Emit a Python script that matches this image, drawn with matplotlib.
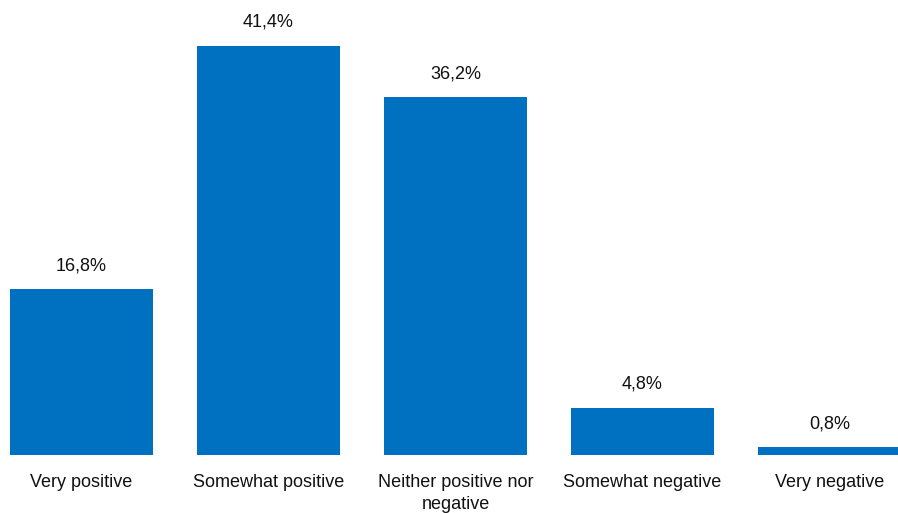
import matplotlib
matplotlib.use("Agg")
import matplotlib.pyplot as plt
from matplotlib import font_manager

categories = ["Very positive", "Somewhat positive", "Neither positive nor\nnegative",
              "Somewhat negative", "Very negative"]
values = [16.8, 41.4, 36.2, 4.8, 0.8]
labels = ["16,8%", "41,4%", "36,2%", "4,8%", "0,8%"]

names = {f.name for f in font_manager.fontManager.ttflist}
if "Liberation Sans Narrow" in names:
    fam, fs = "Liberation Sans Narrow", 15
else:
    fam, fs = "Liberation Sans", 13
plt.rcParams['font.family'] = [fam, 'DejaVu Sans']

fig = plt.figure(figsize=(8.98, 5.13), dpi=100)
ax = fig.add_axes([0, 58 / 513, 1, 455 / 513])

x = list(range(len(values)))
ax.bar(x, values, width=0.765, color="#0070C0")
ax.set_xlim(-0.436, 4.366)
ax.set_ylim(0, 46.05)

for xi, v, lab in zip(x, values, labels):
    ax.annotate(lab, (xi, v), xytext=(0, 15), textcoords="offset pixels",
                ha="center", va="bottom", fontsize=fs, color="#111111")

for xi, c in zip(x, categories):
    ax.annotate(c, (xi, 0), xytext=(0, -19), textcoords="offset pixels",
                ha="center", va="top", fontsize=fs, color="#111111", linespacing=1.35)

ax.axis("off")
fig.savefig("out.png", dpi=100)
